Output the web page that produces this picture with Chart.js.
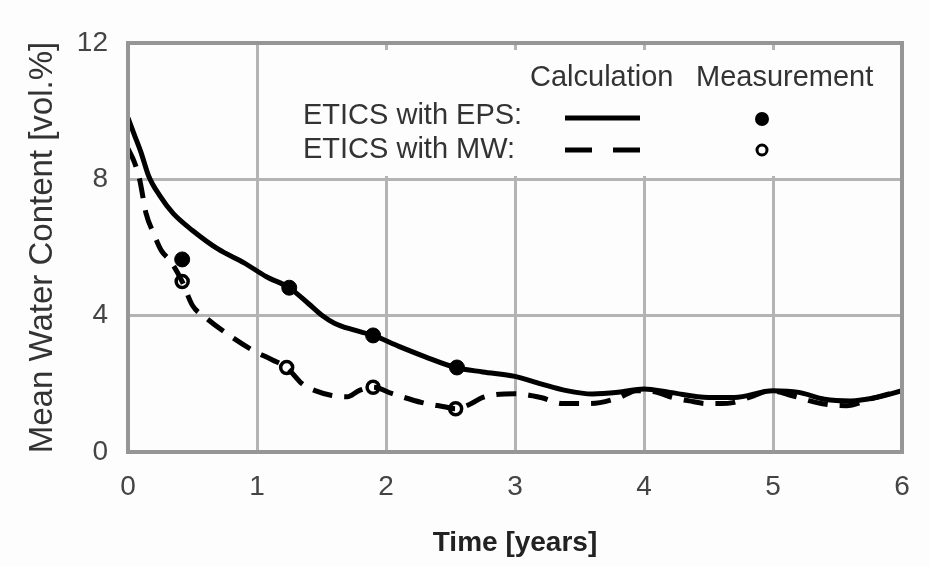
<!DOCTYPE html>
<html>
<head>
<meta charset="utf-8">
<script src="https://cdn.jsdelivr.net/npm/chart.js@4.4.1/dist/chart.umd.min.js"></script>
<style>
html,body{margin:0;padding:0;background:#fdfdfd;}
#wrap{width:930px;height:567px;position:relative;}
</style>
</head>
<body>
<div id="wrap"><canvas id="c" width="930" height="567"></canvas></div>
<script>
// ---- data ----
const xTicks = [0, 1, 2, 3, 4, 5, 6];
const yTicks = [0, 4, 8, 12];

const epsCalcX = [0, 0.05, 0.1, 0.16, 0.25, 0.35, 0.5, 0.7, 0.9, 1.07, 1.25, 1.4, 1.5, 1.6, 1.75, 1.9, 2.1, 2.3, 2.54, 2.75, 3.0, 3.2, 3.4, 3.6, 3.8, 4.0, 4.2, 4.5, 4.7, 5.0, 5.2, 5.4, 5.6, 5.8, 6.0];
const epsCalcY = [9.8, 9.3, 8.8, 8.1, 7.5, 7.0, 6.5, 5.95, 5.55, 5.15, 4.82, 4.35, 4.02, 3.78, 3.58, 3.42, 3.1, 2.8, 2.48, 2.35, 2.22, 2.0, 1.8, 1.7, 1.75, 1.85, 1.75, 1.6, 1.6, 1.8, 1.75, 1.55, 1.5, 1.6, 1.8];

const mwCalcX = [0, 0.05, 0.09, 0.14, 0.2, 0.26, 0.33, 0.42, 0.5, 0.6, 0.76, 0.96, 1.12, 1.23, 1.35, 1.45, 1.58, 1.7, 1.79, 1.9, 2.05, 2.28, 2.45, 2.54, 2.65, 2.75, 3.0, 3.2, 3.37, 3.58, 3.81, 3.94, 4.1, 4.22, 4.35, 4.49, 4.6, 4.69, 4.85, 4.98, 5.15, 5.34, 5.45, 5.57, 5.75, 5.99];
const mwCalcY = [8.9, 8.5, 8.0, 7.0, 6.4, 5.9, 5.6, 5.0, 4.3, 3.95, 3.49, 3.0, 2.7, 2.48, 2.0, 1.8, 1.66, 1.62, 1.8, 1.9, 1.71, 1.45, 1.33, 1.27, 1.4, 1.6, 1.71, 1.6, 1.42, 1.42, 1.6, 1.8, 1.75, 1.6, 1.5, 1.42, 1.42, 1.45, 1.65, 1.8, 1.65, 1.45, 1.38, 1.36, 1.55, 1.8];

const epsMeasX = [0.42, 1.25, 1.9, 2.55];
const epsMeasY = [5.65, 4.82, 3.42, 2.48];
const mwMeasX = [0.42, 1.23, 1.9, 2.54];
const mwMeasY = [5.0, 2.48, 1.9, 1.27];

const xTitle = 'Time [years]';
const yTitle = 'Mean Water Content [vol.%]';
const legendHeader = ['Calculation', 'Measurement'];
const legendRows = ['ETICS with EPS:', 'ETICS with MW:'];

// ---- build ----
const pts = (xs, ys) => xs.map((x, i) => ({x: x, y: ys[i]}));
const FONT = "'Liberation Sans', Arial, sans-serif";

const legendPlugin = {
  id: 'legendBox',
  beforeDatasetsDraw(chart) {
    const ctx = chart.ctx, a = chart.chartArea;
    const xs = chart.scales.x;
    ctx.save();
    ctx.fillStyle = '#fdfdfd';
    ctx.fillRect(xs.getPixelForValue(1) + 4, a.top + 7, a.right - xs.getPixelForValue(1) - 6, 126);
    ctx.restore();
  },
  afterDatasetsDraw(chart) {
    const ctx = chart.ctx, a = chart.chartArea;
    ctx.save();
    // frame
    ctx.strokeStyle = '#969696';
    ctx.lineWidth = 4;
    ctx.strokeRect(a.left, a.top, a.right - a.left, a.bottom - a.top);
    // legend text
    ctx.fillStyle = '#333';
    ctx.font = '29px ' + FONT;
    ctx.textBaseline = 'middle';
    ctx.textAlign = 'left';
    ctx.fillText(legendHeader[0], 530, 78);
    ctx.fillText(legendHeader[1], 696, 78);
    ctx.fillText(legendRows[0], 303, 116);
    ctx.fillText(legendRows[1], 303, 150);
    // samples
    ctx.strokeStyle = '#000';
    ctx.lineWidth = 5;
    ctx.beginPath(); ctx.moveTo(565, 118); ctx.lineTo(640, 118); ctx.stroke();
    ctx.setLineDash([27, 21]);
    ctx.beginPath(); ctx.moveTo(565, 150); ctx.lineTo(640, 150); ctx.stroke();
    ctx.setLineDash([]);
    ctx.fillStyle = '#000';
    ctx.beginPath(); ctx.arc(762, 119, 7, 0, Math.PI * 2); ctx.fill();
    ctx.lineWidth = 3;
    ctx.fillStyle = '#fff';
    ctx.beginPath(); ctx.arc(762, 150, 5, 0, Math.PI * 2); ctx.fill(); ctx.stroke();
    ctx.restore();
  }
};

new Chart(document.getElementById('c'), {
  type: 'scatter',
  data: {
    datasets: [
      {label: 'EPS calc', data: pts(epsCalcX, epsCalcY), showLine: true, borderColor: '#000', borderWidth: 5, pointRadius: 0, cubicInterpolationMode: 'monotone'},
      {label: 'MW calc', data: pts(mwCalcX, mwCalcY), showLine: true, borderColor: '#000', borderWidth: 5, borderDash: [20, 12], pointRadius: 0, cubicInterpolationMode: 'monotone'},
      {label: 'EPS meas', data: pts(epsMeasX, epsMeasY), pointRadius: 7.5, pointBackgroundColor: '#000', pointBorderColor: '#000', pointBorderWidth: 1},
      {label: 'MW meas', data: pts(mwMeasX, mwMeasY), pointRadius: 6, pointBackgroundColor: '#fff', pointBorderColor: '#000', pointBorderWidth: 3.5}
    ]
  },
  options: {
    responsive: false,
    animation: false,
    devicePixelRatio: 1,
    layout: {padding: {left: 0, top: 43, right: 28, bottom: 0}},
    plugins: {legend: {display: false}, tooltip: {enabled: false}},
    scales: {
      x: {
        type: 'linear', min: 0, max: 6,
        afterBuildTicks: s => { s.ticks = xTicks.map(v => ({value: v})); },
        afterFit: s => { s.height = 115; },
        grid: {color: '#b4b4b4', lineWidth: 3, drawTicks: false},
        border: {display: false},
        ticks: {color: '#444', font: {family: FONT, size: 28}, padding: 18, maxRotation: 0},
        title: {display: true, text: xTitle, color: '#222', font: {family: FONT, size: 28, weight: 'bold'}, padding: {top: 0, bottom: 7}}
      },
      y: {
        type: 'linear', min: 0, max: 12,
        afterBuildTicks: s => { s.ticks = yTicks.map(v => ({value: v})); },
        afterFit: s => { s.width = 128; },
        grid: {color: '#b4b4b4', lineWidth: 3, drawTicks: false},
        border: {display: false},
        ticks: {color: '#444', font: {family: FONT, size: 28}, padding: 20},
        title: {display: true, text: yTitle, color: '#333', font: {family: FONT, size: 33}, padding: {top: 23, bottom: 0}}
      }
    }
  },
  plugins: [legendPlugin]
});
</script>
</body>
</html>
